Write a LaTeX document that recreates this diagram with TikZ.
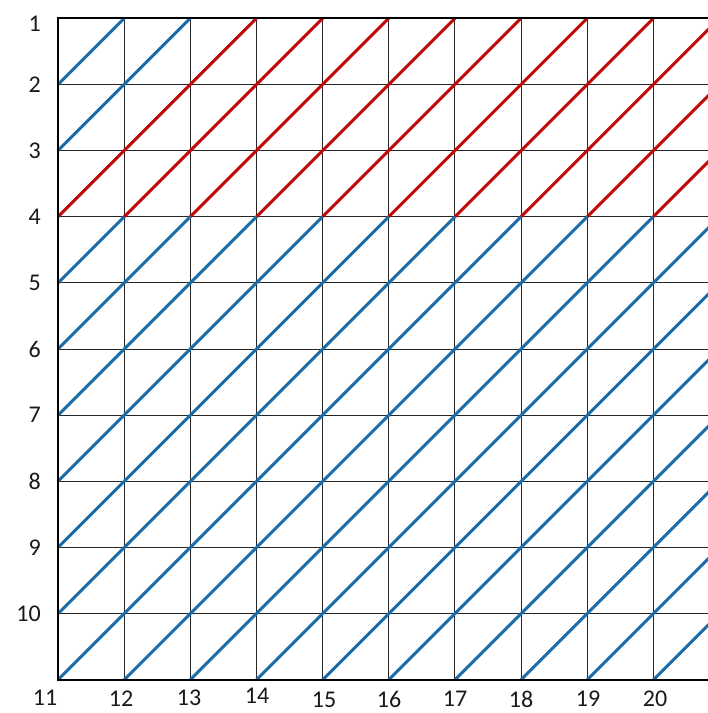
\documentclass[tikz,border=0pt]{standalone}
\usepackage{fontspec}
\setmainfont{Carlito}
\definecolor{gblue}{RGB}{28,108,168}
\definecolor{gred}{RGB}{192,10,10}
\begin{document}
\begin{tikzpicture}[x=1pt,y=-1pt,
  gridline/.style={line width=1pt, black!85},
  frameline/.style={line width=2pt, black},
  diag/.style={line width=3pt},
  lab/.style={font=\fontsize{24}{24}\selectfont, inner sep=0pt, text=black!90}]
\useasboundingbox (0,0) rectangle (708,713);
\begin{scope}
\clip (0,0) rectangle (708,713);
\foreach \i in {1,...,9}
  \draw[gridline] ({58+66.15*\i},18.3) -- ({58+66.15*\i},680);
\foreach \j in {1,...,9}
  \draw[gridline] (58,{18.3+66.15*\j}) -- (708,{18.3+66.15*\j});
\foreach \r in {0,...,9}{
  \foreach \c in {0,...,9}{
    \pgfmathtruncatemacro{\isred}{(\r<3)&&(\r+\c>1)?1:0}
    \ifnum\isred=1 \def\dcol{gred}\else\def\dcol{gblue}\fi
    \draw[diag, draw=\dcol] ({58+66.15*\c},{18.3+66.15*(\r+1)}) -- ({58+66.15*(\c+1)},{18.3+66.15*\r});
  }
}
\draw[frameline] (708,18.3) -- (58,18.3) -- (58,680) -- (708,680);
\end{scope}
\node[lab, anchor=east] (l1) at (41,24) {1};
\foreach \j/\t in {1/2,2/3,3/4,4/5,5/6,6/7,7/8,8/9,9/10}
  \node[lab, anchor=east] (l\t) at (41,{18.3+66.15*\j}) {\t};
\foreach \t/\x/\y in {11/45/698,12/121/699,13/189/698,14/257/696,15/324/700,16/389/699,17/455/699,18/521/699,19/588/699,20/655/699}
  \node[lab] (b\t) at (\x,\y) {\t};
\end{tikzpicture}
\end{document}
